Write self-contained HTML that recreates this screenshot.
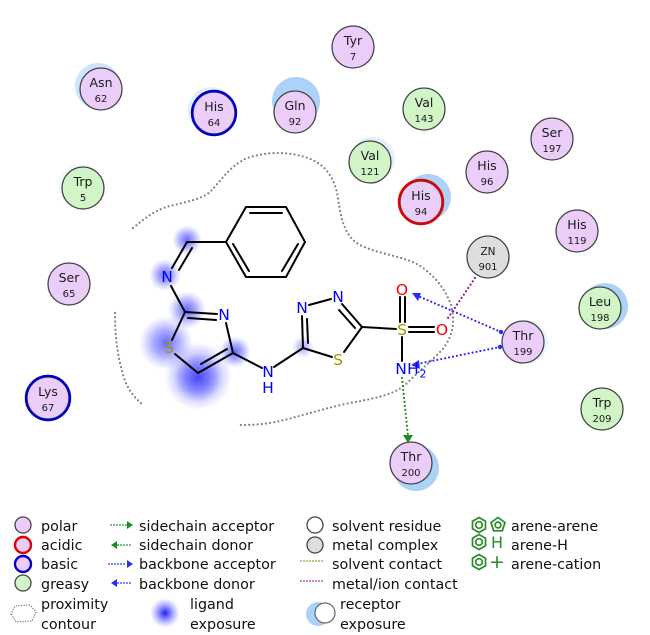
<!DOCTYPE html>
<html><head><meta charset="utf-8"><style>
html,body{margin:0;padding:0;background:#fff;}
svg{display:block;}
text{font-family:"DejaVu Sans","Liberation Sans",sans-serif;}
</style></head><body>
<svg width="650" height="635" viewBox="0 0 650 635" xmlns="http://www.w3.org/2000/svg">
<defs>
<radialGradient id="lg">
<stop offset="0" stop-color="#4040ff" stop-opacity="0.8"/>
<stop offset="0.5" stop-color="#6262ff" stop-opacity="0.5"/>
<stop offset="1" stop-color="#8888ff" stop-opacity="0"/>
</radialGradient>
<radialGradient id="lg2">
<stop offset="0" stop-color="#2020ff" stop-opacity="1"/>
<stop offset="0.3" stop-color="#4a4aff" stop-opacity="0.8"/>
<stop offset="1" stop-color="#8888ff" stop-opacity="0"/>
</radialGradient>
</defs>

<!-- receptor exposure halos -->
<g fill="#acd2f8">
<circle cx="98" cy="86" r="23" opacity="0.6"/>
<circle cx="211" cy="110" r="23" opacity="0.35"/>
<circle cx="296" cy="101" r="24"/>
<circle cx="80" cy="186" r="22" opacity="0.15"/>
<circle cx="373" cy="159" r="22" opacity="0.35"/>
<circle cx="428" cy="197" r="23"/>
<circle cx="605" cy="306" r="23"/>
<circle cx="526" cy="342" r="22" opacity="0.25"/>
<circle cx="416" cy="468" r="23"/>
</g>

<!-- ligand exposure -->
<g>
<circle cx="187" cy="240" r="15" fill="url(#lg)"/>
<circle cx="165" cy="275" r="16" fill="url(#lg)"/>
<circle cx="187" cy="310" r="19" fill="url(#lg)"/>
<circle cx="166" cy="343" r="27" fill="url(#lg)"/>
<circle cx="198" cy="376" r="34" fill="url(#lg)"/>
<circle cx="198" cy="378" r="24" fill="url(#lg)"/>
<circle cx="235" cy="352" r="16" fill="url(#lg)"/>
<circle cx="303" cy="347" r="11" fill="url(#lg)" opacity="0.6"/>
</g>

<!-- proximity contour -->
<g fill="none" stroke="#808080" stroke-width="2.2" stroke-linecap="round" stroke-dasharray="0 4.2">
<path d="M133,228 C145,218 155,210 170,206 C185,202 200,200 210,192 C220,182 228,168 245,159 C262,152 285,151 305,157 C325,163 335,178 338,198 C341,220 345,238 362,246 C380,254 400,256 415,263 C432,272 445,288 451,305 C456,322 452,340 440,352 C428,364 415,375 405,385 C392,396 370,399 345,404 C318,410 295,418 275,422 C260,425 248,425 237,425"/>
<path d="M115,313 C115,335 117,355 124,378 C128,390 135,398 143,405"/>
</g>

<!-- interactions -->
<g fill="none" stroke-width="2.2" stroke-linecap="round" stroke-dasharray="0 4">
<path d="M501,332 L418,296" stroke="#2b2bff"/>
<path d="M500,347 L417,364" stroke="#2b2bff"/>
<path d="M475,278 L448,318" stroke="#8b1a8b"/>
<path d="M402,378 L408,436" stroke="#1e8c1e"/>
</g>
<g>
<polygon points="412,293 421,293 418,301" fill="#2b2bff"/>
<polygon points="411,365 419,360 420,369" fill="#2b2bff"/>
<circle cx="501" cy="332" r="2.2" fill="#2b2bff"/>
<circle cx="500" cy="347" r="2.2" fill="#2b2bff"/>
<polygon points="408,443 403,435 413,435" fill="#1e8c1e"/>
</g>

<!-- molecule bonds -->
<g stroke="#000" stroke-width="2" fill="none" stroke-linecap="round">
<polygon points="226,242 246,207 286,207 305,242 286,277 246,277"/>
<line x1="250" y1="213" x2="282" y2="213"/>
<line x1="298" y1="244" x2="282" y2="271"/>
<line x1="233" y1="244" x2="249" y2="271"/>
<line x1="187" y1="242" x2="226" y2="242"/>
<line x1="187" y1="242" x2="172" y2="268"/>
<line x1="192" y1="248" x2="179" y2="270"/>
<line x1="171" y1="286" x2="185" y2="312"/>
<line x1="185" y1="312" x2="217" y2="314"/>
<line x1="188" y1="318" x2="216" y2="320"/>
<line x1="226" y1="323" x2="233" y2="353"/>
<line x1="233" y1="353" x2="198" y2="373"/>
<line x1="227" y1="349" x2="201" y2="364"/>
<line x1="198" y1="373" x2="175" y2="354"/>
<line x1="172" y1="340" x2="185" y2="312"/>
<line x1="233" y1="353" x2="262" y2="368"/>
<line x1="274" y1="367" x2="303" y2="348"/>
<line x1="303" y1="348" x2="302" y2="316"/>
<line x1="308" y1="343" x2="307" y2="319"/>
<line x1="309" y1="305" x2="331" y2="299"/>
<line x1="342" y1="304" x2="362" y2="327"/>
<line x1="339" y1="310" x2="355" y2="328"/>
<line x1="362" y1="327" x2="344" y2="352"/>
<line x1="332" y1="357" x2="303" y2="348"/>
<line x1="362" y1="327" x2="396" y2="329"/>
<line x1="400" y1="297" x2="400" y2="322"/>
<line x1="405" y1="297" x2="405" y2="322"/>
<line x1="409" y1="327" x2="434" y2="327"/>
<line x1="409" y1="332" x2="434" y2="332"/>
<line x1="402" y1="337" x2="402" y2="361"/>
</g>

<!-- atom labels -->
<g font-size="15.5" text-anchor="middle" dominant-baseline="central">
<text x="167" y="277" fill="#0000ff">N</text>
<text x="224" y="315" fill="#0000ff">N</text>
<text x="169" y="348" fill="#9a9a00">S</text>
<text x="268" y="372" fill="#0000ff">N</text>
<text x="268" y="388" fill="#0000ff">H</text>
<text x="302" y="308" fill="#0000ff">N</text>
<text x="338" y="297" fill="#0000ff">N</text>
<text x="338" y="360" fill="#9a9a00">S</text>
<text x="402" y="330" fill="#9a9a00">S</text>
<text x="402" y="290" fill="#ff0000">O</text>
<text x="442" y="330" fill="#ff0000">O</text>
<text x="401" y="369" fill="#0000ff">N</text>
<text x="413" y="369" fill="#0000ff">H</text>
<text x="423" y="374" fill="#0000ff" font-size="11">2</text>
</g>

<!-- residues -->
<g stroke="#444" stroke-width="1.3">
<circle cx="101" cy="89" r="21" fill="#ebcdf9"/>
<circle cx="214" cy="113" r="21" fill="#ebcdf9"/>
<circle cx="295" cy="112" r="21" fill="#ebcdf9"/>
<circle cx="83" cy="188" r="21" fill="#d1f5c6"/>
<circle cx="353" cy="47" r="21" fill="#ebcdf9"/>
<circle cx="424" cy="109" r="21" fill="#d1f5c6"/>
<circle cx="370" cy="162" r="21" fill="#d1f5c6"/>
<circle cx="421" cy="202" r="21" fill="#ebcdf9"/>
<circle cx="487" cy="172" r="21" fill="#ebcdf9"/>
<circle cx="552" cy="139" r="21" fill="#ebcdf9"/>
<circle cx="577" cy="231" r="21" fill="#ebcdf9"/>
<circle cx="488" cy="257" r="21" fill="#dedede"/>
<circle cx="600" cy="308" r="21" fill="#d1f5c6"/>
<circle cx="523" cy="342" r="21" fill="#ebcdf9"/>
<circle cx="602" cy="409" r="21" fill="#d1f5c6"/>
<circle cx="411" cy="463" r="21" fill="#ebcdf9"/>
<circle cx="69" cy="284" r="21" fill="#ebcdf9"/>
<circle cx="48" cy="398" r="21" fill="#ebcdf9"/>
</g>
<g fill="none" stroke-width="2.4">
<circle cx="214" cy="113" r="22" stroke="#0000cc"/>
<circle cx="48" cy="398" r="22" stroke="#0000cc"/>
<circle cx="421" cy="202" r="22" stroke="#e00000"/>
</g>
<g fill="#1a1a1a" text-anchor="middle" font-size="12.5">
<text x="101" y="87">Asn</text><text x="101" y="102" font-size="10">62</text>
<text x="214" y="111">His</text><text x="214" y="126" font-size="10">64</text>
<text x="295" y="110">Gln</text><text x="295" y="125" font-size="10">92</text>
<text x="83" y="186">Trp</text><text x="83" y="201" font-size="10">5</text>
<text x="353" y="45">Tyr</text><text x="353" y="60" font-size="10">7</text>
<text x="424" y="107">Val</text><text x="424" y="122" font-size="10">143</text>
<text x="370" y="160">Val</text><text x="370" y="175" font-size="10">121</text>
<text x="421" y="200">His</text><text x="421" y="215" font-size="10">94</text>
<text x="487" y="170">His</text><text x="487" y="185" font-size="10">96</text>
<text x="552" y="137">Ser</text><text x="552" y="152" font-size="10">197</text>
<text x="577" y="229">His</text><text x="577" y="244" font-size="10">119</text>
<text x="488" y="255" font-size="10.5">ZN</text><text x="488" y="270" font-size="10">901</text>
<text x="600" y="306">Leu</text><text x="600" y="321" font-size="10">198</text>
<text x="523" y="340">Thr</text><text x="523" y="355" font-size="10">199</text>
<text x="602" y="407">Trp</text><text x="602" y="422" font-size="10">209</text>
<text x="411" y="461">Thr</text><text x="411" y="476" font-size="10">200</text>
<text x="69" y="282">Ser</text><text x="69" y="297" font-size="10">65</text>
<text x="48" y="396">Lys</text><text x="48" y="411" font-size="10">67</text>
</g>

<!-- legend -->
<g stroke="#444" stroke-width="1.3">
<circle cx="23" cy="525" r="8" fill="#ebcdf9"/>
<circle cx="23" cy="545" r="8" fill="#ebcdf9" stroke="#e00000" stroke-width="2.4"/>
<circle cx="23" cy="564" r="8" fill="#ebcdf9" stroke="#0000cc" stroke-width="2.4"/>
<circle cx="23" cy="583" r="8" fill="#d1f5c6"/>
<circle cx="315" cy="525" r="8" fill="#fff"/>
<circle cx="315" cy="545" r="8" fill="#dedede"/>
</g>
<path d="M11,614 L15,606 L30,605 L36,612 L32,621 L16,622 Z" fill="none" stroke="#777" stroke-width="1.4" stroke-linecap="round" stroke-dasharray="0 2.6"/>
<circle cx="165" cy="613" r="15" fill="url(#lg2)"/>
<circle cx="318" cy="614" r="12" fill="#acd2f8"/>
<circle cx="325" cy="613" r="10" fill="#fff" stroke="#666" stroke-width="1.2"/>
<g fill="none" stroke-width="1.8" stroke-linecap="round" stroke-dasharray="0 3">
<line x1="111" y1="525" x2="127" y2="525" stroke="#1e8c1e"/>
<line x1="118" y1="545" x2="133" y2="545" stroke="#1e8c1e"/>
<line x1="109" y1="564" x2="127" y2="564" stroke="#2b2bff"/>
<line x1="118" y1="583" x2="133" y2="583" stroke="#2b2bff"/>
<line x1="301" y1="561" x2="323" y2="561" stroke="#999933"/>
<line x1="301" y1="581" x2="323" y2="581" stroke="#993399"/>
</g>
<g>
<polygon points="133,525 127,521 127,529" fill="#1e8c1e"/>
<polygon points="111,545 117,541 117,549" fill="#1e8c1e"/>
<polygon points="133,564 127,560 127,568" fill="#2b2bff"/>
<polygon points="111,583 117,579 117,587" fill="#2b2bff"/>
</g>
<g fill="none" stroke="#2a8a2a" stroke-width="1.7">
<polygon points="479,517.5 485.5,521.2 485.5,528.8 479,532.5 472.5,528.8 472.5,521.2"/>
<circle cx="479" cy="525" r="3.3"/>
<polygon points="498,517.5 505,522.6 502.3,530.8 493.7,530.8 491,522.6"/>
<circle cx="498" cy="525" r="2.9"/>
<polygon points="479,534.5 485.5,538.2 485.5,545.8 479,549.5 472.5,545.8 472.5,538.2"/>
<circle cx="479" cy="542" r="3.3"/>
<polygon points="479,554.5 485.5,558.2 485.5,565.8 479,569.5 472.5,565.8 472.5,558.2"/>
<circle cx="479" cy="562" r="3.3"/>
</g>
<g fill="#2a8a2a" font-size="16" text-anchor="middle">
<text x="497" y="548">H</text>
<text x="497" y="568" font-size="19">+</text>
</g>
<g fill="#111" font-size="14.3">
<text x="41" y="531">polar</text>
<text x="41" y="550">acidic</text>
<text x="41" y="569">basic</text>
<text x="41" y="589">greasy</text>
<text x="41" y="609">proximity</text>
<text x="41" y="629">contour</text>
<text x="139" y="531">sidechain acceptor</text>
<text x="139" y="550">sidechain donor</text>
<text x="139" y="569">backbone acceptor</text>
<text x="139" y="589">backbone donor</text>
<text x="190" y="609">ligand</text>
<text x="190" y="629">exposure</text>
<text x="332" y="531">solvent residue</text>
<text x="332" y="550">metal complex</text>
<text x="332" y="569">solvent contact</text>
<text x="332" y="589">metal/ion contact</text>
<text x="340" y="609">receptor</text>
<text x="340" y="629">exposure</text>
<text x="511" y="531">arene-arene</text>
<text x="511" y="550">arene-H</text>
<text x="511" y="569">arene-cation</text>
</g>
</svg>
</body></html>
